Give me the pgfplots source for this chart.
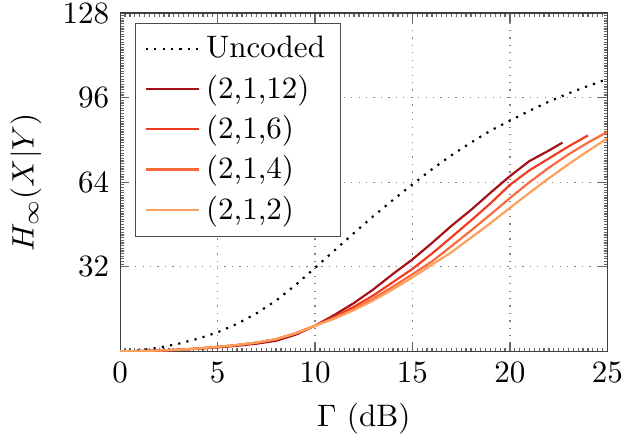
\documentclass[border=0pt]{standalone}
\usepackage{pgfplots}
\pgfplotsset{compat=1.18}

\definecolor{kTwelve}{RGB}{165,15,21}
\definecolor{kSix}{RGB}{240,59,32}
\definecolor{kFour}{RGB}{252,106,58}
\definecolor{kTwo}{RGB}{253,160,92}

\begin{document}
\begin{tikzpicture}
\begin{axis}[
    scale only axis,
    width=157pt, height=109pt,
    xmin=0, xmax=25,
    ymin=0, ymax=128,
    xtick={0,5,10,15,20,25},
    ytick={32,64,96,128},
    minor x tick num=19,
    minor y tick num=31,
    major tick length=3pt,
    minor tick length=1.2pt,
    every tick/.style={black!60},
    axis line style={black!75},
    yticklabel style={inner ysep=1pt},
    xticklabel style={inner xsep=1pt},
    xmajorgrids, ymajorgrids,
    major grid style={dotted, gray},
    xlabel={$\Gamma$ (dB)},
    ylabel={$H_\infty(X|Y)$},
    legend pos=north west,
    legend cell align=left,
    legend style={draw=black!70, fill=white},
]
\addplot[black, line width=0.7pt, dotted] coordinates {
(0,0)(1,0.4)(2,1.4)(3,2.9)(4,4.8)(5,7.2)(6,10.4)(7,14.4)(8,19.2)(9,25.1)
(10,31.6)(11,38.2)(12,44.8)(13,51.2)(14,57.3)(15,63.2)(16,68.9)(17,74.2)
(18,79)(19,83.5)(20,87.3)(21,91)(22,94.5)(23,97.6)(24,100.4)(25,103)
};
\addlegendentry{Uncoded}
\addplot[kTwelve, line width=0.7pt] coordinates {
(0,0)(1,0.1)(2,0.3)(3,0.6)(4,1.0)(5,1.5)(6,2.1)(7,2.9)(8,4.0)(9,6.3)
(10,9.7)(11,13.8)(12,18.3)(13,23.5)(14,29.3)(15,34.8)(16,41)(17,47.5)
(18,53.5)(19,60)(20,66.3)(21,72)(22,76)(22.7,79)
};
\addlegendentry{(2,1,12)}
\addplot[kSix, line width=0.7pt] coordinates {
(0,0)(1,0.1)(2,0.3)(3,0.6)(4,1.1)(5,1.7)(6,2.4)(7,3.3)(8,4.6)(9,6.8)
(10,9.7)(11,13)(12,16.9)(13,21.2)(14,26.2)(15,31.2)(16,37)(17,43.2)
(18,49.5)(19,56)(20,63)(21,68.5)(22,73)(23,77.5)(24,81.7)
};
\addlegendentry{(2,1,6)}
\addplot[kFour, line width=0.7pt] coordinates {
(0,0)(1,0.1)(2,0.3)(3,0.6)(4,1.1)(5,1.7)(6,2.4)(7,3.3)(8,4.6)(9,6.8)
(10,9.7)(11,12.6)(12,16)(13,20)(14,24.5)(15,29.2)(16,34)(17,39.8)
(18,45.7)(19,51.8)(20,58)(21,64)(22,69.5)(23,74.5)(24,79)(25,83)
};
\addlegendentry{(2,1,4)}
\addplot[kTwo, line width=0.7pt] coordinates {
(0,0)(1,0.1)(2,0.3)(3,0.6)(4,1.1)(5,1.7)(6,2.4)(7,3.3)(8,4.6)(9,6.8)
(10,9.7)(11,12.4)(12,15.6)(13,19.3)(14,23.5)(15,28)(16,32.8)(17,37.5)
(18,43)(19,48.5)(20,54.3)(21,60)(22,65.5)(23,70.8)(24,75.8)(25,80.6)
};
\addlegendentry{(2,1,2)}
\end{axis}
\end{tikzpicture}
\end{document}
